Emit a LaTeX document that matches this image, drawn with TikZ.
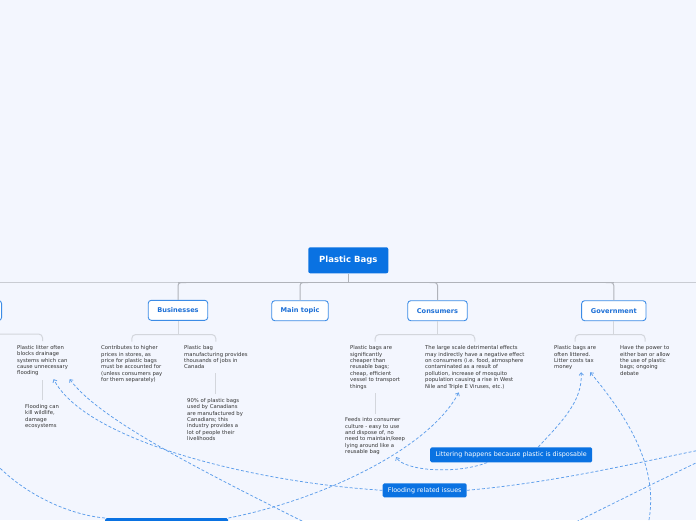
\documentclass[tikz,border=0pt]{standalone}
\usepackage{fontspec}
\setmainfont{DejaVu Sans}
\usetikzlibrary{arrows.meta,calc}
\definecolor{bg}{HTML}{F3F6FE}
\definecolor{rootblue}{HTML}{0A72E2}
\definecolor{topicblue}{HTML}{1C6FD6}
\definecolor{topicborder}{HTML}{3C8CE6}
\definecolor{treegray}{HTML}{B0B3BA}
\definecolor{treelight}{HTML}{C9CCD3}
\definecolor{subgray}{HTML}{D3D6DC}
\definecolor{txt}{HTML}{333333}
\definecolor{rel}{HTML}{5C9DEB}
\tikzset{
 rootbox/.style={fill=rootblue, rounded corners=2pt, text=white, font=\fontsize{8.5}{10}\selectfont\bfseries, minimum width=80pt, minimum height=26pt, inner sep=0pt},
 topicbox/.style={draw=topicborder, line width=0.9pt, fill=white, rounded corners=3pt, text=topicblue, font=\fontsize{6.6}{8}\selectfont\bfseries, minimum height=20pt, inner sep=0pt},
 leaf/.style={anchor=north west, align=left, inner sep=0pt, text=txt, font=\fontsize{5.3}{6.4}\selectfont},
 relbox/.style={fill=rootblue, rounded corners=1.5pt, text=white, font=\fontsize{6.4}{8}\selectfont, inner sep=0pt, minimum height=15pt},
 treeline/.style={draw=treegray, line width=1pt},
 subline/.style={draw=subgray, line width=1pt, rounded corners=4pt},
 reldash/.style={draw=rel, line width=0.75pt, dash pattern=on 3pt off 2pt},
 relarrow/.style={reldash, -{Straight Barb[length=2.5pt,width=4.5pt]}},
}
\begin{document}
\begin{tikzpicture}[x=1pt,y=-1pt]
\useasboundingbox (0,0) rectangle (696,520);
\fill[bg] (0,0) rectangle (696,520);
\clip (0,0) rectangle (696,520);

% main horizontal line
\coordinate (hl) at (0,282.5);
\coordinate (hr) at (696,282.5);
\draw[draw=treelight, line width=1.6pt] (hl) -- (hr);

% root and topics
\node[rootbox] (root) at (348.3,260.3) {Plastic Bags};
\node[topicbox, minimum width=62pt, anchor=east] (env) at (2,310.5) {};
\node[topicbox, minimum width=59.5pt] (bus) at (178,310.3) {Businesses};
\node[topicbox, minimum width=56.5pt] (main) at (300,310.7) {Main topic};
\node[topicbox, minimum width=59.5pt] (con) at (437.5,310.7) {Consumers};
\node[topicbox, minimum width=64.3pt] (gov) at (613.8,310.7) {Government};

\draw[draw=treegray, line width=1.6pt] (bus.north |- hl) -- (gov.north |- hl);
\draw[treeline] (root.south) -- (root.south |- hl);
\draw[treeline, rounded corners=3pt] ($(bus.north |- hl)+(8,0)$) -| (bus.north);
\draw[treeline, rounded corners=3pt] ($(main.north |- hl)+(8,0)$) -| (main.north);
\draw[treeline, rounded corners=3pt] ($(con.north |- hl)+(-8,0)$) -| (con.north);
\draw[treeline, rounded corners=3pt] ($(gov.north |- hl)+(-8,0)$) -| (gov.north);

% leaves
\node[leaf] (L1) at (17,345) {Plastic litter often\\blocks drainage\\systems which can\\cause unnecessary\\flooding};
\node[leaf] (L1a) at (25,404) {Flooding can\\kill wildlife,\\damage\\ecosystems};
\node[leaf] (B1) at (101,345.5) {Contributes to higher\\prices in stores, as\\price for plastic bags\\must be accounted for\\(unless consumers pay\\for them separately)};
\node[leaf] (B2) at (184,345.5) {Plastic bag\\manufacturing provides\\thousands of jobs in\\Canada};
\node[leaf] (B2a) at (187,398) {90\% of plastic bags\\used by Canadians\\are manufactured by\\Canadians; this\\industry provides a\\lot of people their\\livelihoods};
\node[leaf] (C1) at (350,345.5) {Plastic bags are\\significantly\\cheaper than\\reusable bags;\\cheap, efficient\\vessel to transport\\things};
\node[leaf] (C1a) at (345,417.5) {Feeds into consumer\\culture - easy to use\\and dispose of, no\\need to maintain/keep\\lying around like a\\reusable bag};
\node[leaf] (C2) at (425,345.5) {The large scale detrimental effects\\may indirectly have a negative effect\\on consumers (i.e. food, atmosphere\\contaminated as a result of\\pollution, increase of mosquito\\population causing a rise in West\\Nile and Triple E Viruses, etc.)};
\node[leaf] (G1) at (554,345.5) {Plastic bags are\\often littered.\\Litter costs tax\\money};
\node[leaf] (G2) at (620,345.5) {Have the power to\\either ban or allow\\the use of plastic\\bags; ongoing\\debate};

% brackets
\coordinate (lb) at ($(L1.north)+(0,-11)$);
\draw[subline] (env.south) |- (lb) -- ($(L1.north)+(0,-4)$);
\coordinate (bb) at ($(B1.north)+(0,-11)$);
\draw[subline] ($(B1.north)+(0,-4)$) |- ($(B2.north)+(0,-11)$) -- ($(B2.north)+(0,-4)$);
\draw[subline] (bus.south) -- (bus.south |- bb);
\coordinate (cb) at ($(C1.north)+(0,-11)$);
\draw[subline] ($(C1.north)+(0,-4)$) |- ($(C2.north)+(0,-11)$) -- ($(C2.north)+(0,-4)$);
\draw[subline] (con.south) -- (con.south |- cb);
\coordinate (gb) at ($(G1.north)+(0,-11)$);
\draw[subline] ($(G1.north)+(0,-4)$) |- ($(G2.north)+(0,-11)$) -- ($(G2.north)+(0,-4)$);
\draw[subline] (gov.south) -- (gov.south |- gb);

% sub-children stems
\draw[subline] ($(L1.south -| L1a.north)+(0,4)$) -- ($(L1a.north)+(0,-4)$);
\draw[subline] ($(B2.south -| B2a.north)+(0,4)$) -- ($(B2a.north)+(0,-4)$);
\draw[subline] ($(C1.south -| C1a.north)+(0,4)$) -- ($(C1a.north)+(0,-4)$);

% relationship labels
\node[relbox, minimum width=162pt] (lit) at (511.2,454.8) {Littering happens because plastic is disposable};
\node[relbox, minimum width=84pt, minimum height=14pt] (flood) at (424.7,490.3) {Flooding related issues};
\node[relbox, minimum width=123pt, minimum height=16pt, anchor=north west] (bot) at (105,518) {};

% off-canvas ends
\coordinate (fr) at (700,450);
\coordinate (c4s) at (320,530);
\coordinate (c6e) at (-5,463);
\coordinate (c7s) at (648,525);
\coordinate (c8a) at (700,461);
\coordinate (c8b) at (570,525);

% relationship connectors
\draw[relarrow] ($(lit.north)+(27,0)$) .. controls +(20,-22) and +(2,30) .. ($(G1.south)+(6,2)$);
\draw[relarrow] ($(lit.south)+(-24,0)$) .. controls +(-30,12) and +(8,14) .. ($(C1a.south)+(21,2)$);
\draw[relarrow] (flood.west) .. controls (250,482) and (85,440) .. ($(L1.south)+(11,3)$);
\draw[reldash] (flood.east) .. controls +(90,-8) and +(-60,12) .. (fr);
\draw[relarrow] (c4s) .. controls (200,470) and (100,420) .. ($(L1.south)+(27,3)$);
\draw[relarrow] (bot.north east) .. controls +(92,-18) and +(-30,57) .. ($(C2.south)+(-16,3)$);
\draw[reldash] (bot.north west) .. controls (70,515) and (25,495) .. (c6e);
\draw[relarrow] (c7s) .. controls (660,470) and (630,420) .. ($(G1.south)+(15,2)$);
\draw[reldash] (c8a) .. controls (650,485) and (610,505) .. (c8b);
\end{tikzpicture}
\end{document}
